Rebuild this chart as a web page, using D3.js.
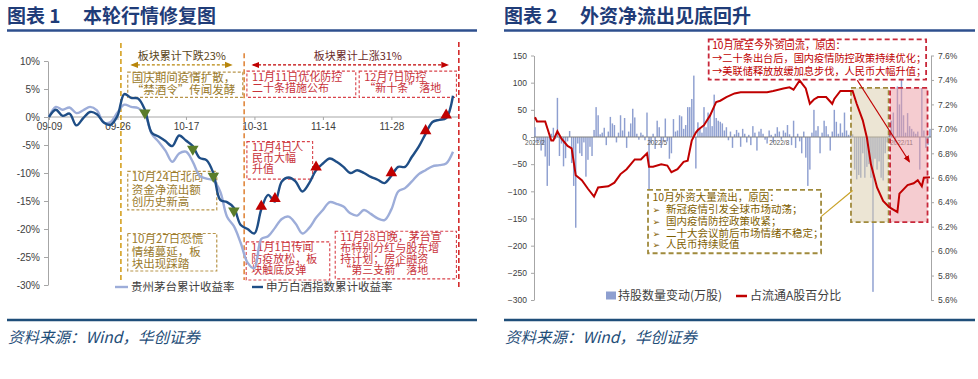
<!DOCTYPE html>
<html>
<head>
<meta charset="utf-8">
<script src="https://cdn.jsdelivr.net/npm/d3@7"></script>
<style>
  body { margin: 0; background: #fff; }
  svg { display: block; font-family: "Noto Sans CJK SC", sans-serif; }
  .axis text { font-family: "Liberation Sans", Arial, sans-serif; fill: #404040; }
  .axis path, .axis line { stroke: #a6a6a6; }
  .ttl { font-size: 19px; font-weight: 700; fill: #1f3c78; }
  .src { font-size: 15.5px; font-style: italic; fill: #1f4e79; }
</style>
</head>
<body>
<svg width="978" height="379"></svg>
<script>
// ---------- chart 1 data (trading days from 09-09) ----------
var leftTickDays = [0, 10, 20, 30, 40, 50];
var leftTickLabels = ["09-09", "09-26", "10-17", "10-31", "11-14", "11-28"];

// 贵州茅台累计收益率 (%)
var moutai = [0, 1.8, 1.3, 1.7, 0.7, 1.2, 1.8, 1.2, -1.0, -0.9,
  0.8, 2.2, 1.8, 1.6, 0.5, -3.0, -4.4, -6.0, -8.0, -6.5,
  -6.2, -8.0, -10.5, -11.0, -11.3, -13.3, -17.8, -19.5, -22.5, -26.0,
  -27.0, -21.8, -21.3, -19.8, -18.2, -17.8, -19.0, -20.8, -19.8, -18.0,
  -16.6, -15.2, -15.5, -16.0, -17.2, -17.6, -16.6, -17.3, -18.1, -18.4,
  -16.5, -13.3, -12.7, -11.5, -10.2, -9.5, -8.8, -8.6, -8.3, -6.2];

// 申万白酒指数累计收益率 (%)
var baijiu = [0, 1.3, 0.2, 0.6, -1.5, -0.2, 0.9, 0.5, -1.0, -1.4,
  0.2, 4.1, 3.4, 3.3, 1.3, -2.8, -3.5, -4.3, -5.2, -3.3,
  -4.2, -5.2, -7.3, -7.7, -10.0, -14.8, -15.2, -16.2, -19.3, -20.0,
  -20.8, -16.5, -13.9, -15.1, -11.5, -10.8, -11.5, -13.3, -11.8, -9.5,
  -8.3, -7.4, -8.0, -8.9, -10.0, -9.5, -10.0, -10.7, -11.2, -11.8,
  -10.5, -8.9, -8.9, -7.1, -5.3, -3.0, -0.9, -0.5, -0.2, 3.8];

var downDays = [14, 21, 24, 27];          // green markers
var upDays = [31, 33, 39, 50, 55, 58];    // red markers

// ---------- chart 2 data (trading days from 2022/2) ----------
var rightTickDays = [0, 60, 120, 180];
var rightTickLabels = ["2022/2", "2022/5", "2022/8", "2022/11"];

// 持股数量变动(万股)
var holdChange = [
  18, -11, -6, -25, -14, -36, -90, -53, 6, 17,
  -4, 72, -35, -12, -54, -39, -8, 11, -48, -90,
  -167, -12, -30, -35, -10, -73, -42, -18, -35, 13,
  55, 40, 5, 8, 17, -15, 10, 37, 25, 22,
  -10, 8, 40, 12, 35, -20, 10, 25, 52, 36,
  6, -5, 8, 4, -6, 45, -98, -12, 6, -22,
  30, 18, -20, -8, 34, -8, -40, -30, 33, 10,
  12, 40, 38, 15, 22, 55, 55, 70, 113, -58,
  27, 15, 8, 55, 18, 45, 40, 20, 78, 35,
  30, 28, 25, 12, 18, -6, 10, -20, 5, 13,
  8, -18, 15, 6, -10, 4, -15, 20, 8, -25,
  10, 15, 6, -5, -12, 12, 4, -10, 6, 18,
  10, -5, 12, 8, 22, 5, -15, 30, -20, 6,
  -8, -30, 10, -38, -90, -60, 8, 50, 12, 20,
  -30, 8, 30, 20, 5, -25, 10, 50, 28, 6,
  25, 8, 45, 12, 4, 8, 5, -60, -78, -70,
  -75, -30, -75, -55, -50, -75, -285, -40, -60, -45,
  -75, -80, -30, -10, 5, 30, 45, -10, 93, 60,
  105, 40, 8, 44, 20, 15, 10, 6, 10, -60,
  90, 12, -20, -15, 15];

// 占流通A股百分比 (%)
var pctDays = [0, 1, 5, 8, 9, 11, 13, 16, 18, 20, 23, 26, 29, 31, 36, 39, 42, 45, 49, 52,
  55, 56, 58, 62, 65, 67, 70, 73, 75, 77, 79, 80, 83, 86, 89, 91, 94, 98, 101, 107,
  114, 117, 122, 125, 127, 130, 133, 135, 137, 139, 143, 146, 147, 150, 156, 158, 161, 163, 165, 168,
  171, 174, 176, 178, 179, 183, 186, 188, 190, 191, 194];
var pctValues = [7.095, 7.06, 7.06, 6.905, 6.905, 6.98, 6.92, 6.86, 6.84, 6.62, 6.58, 6.51, 6.446, 6.52, 6.53, 6.56, 6.63, 6.67, 6.75, 6.75,
  6.80, 6.69, 6.69, 6.71, 6.70, 6.645, 6.67, 6.73, 6.74, 6.905, 6.97, 6.99, 7.03, 7.11, 7.22, 7.23, 7.26, 7.29, 7.30, 7.30,
  7.30, 7.31, 7.33, 7.34, 7.32, 7.395, 7.33, 7.205, 7.24, 7.26, 7.26, 7.205, 7.245, 7.31, 7.31, 7.205, 7.07, 6.93, 6.71, 6.52,
  6.41, 6.36, 6.34, 6.32, 6.47, 6.54, 6.555, 6.58, 6.53, 6.60, 6.605];

var svg = d3.select("svg");

// arrow heads
var defs = svg.append("defs");
[["arGold", "#b8860b"], ["arRed", "#c00000"]].forEach(function (m) {
  defs.append("marker").attr("id", m[0]).attr("viewBox", "0 0 10 10")
    .attr("refX", 8).attr("refY", 5).attr("markerWidth", 6).attr("markerHeight", 6)
    .attr("orient", "auto-start-reverse")
    .append("path").attr("d", "M0,1 L10,5 L0,9 z").attr("fill", m[1]);
});

// titles, rules and source lines
function frame(x0, x1, num, title) {
  svg.append("text").attr("class", "ttl").attr("x", x0).attr("y", 23).text("图表 " + num);
  svg.append("text").attr("class", "ttl").attr("x", x0 + 76).attr("y", 23).text(title);
  svg.append("line").attr("x1", x0).attr("x2", x1).attr("y1", 30.5).attr("y2", 30.5)
    .attr("stroke", "#2e4f8e").attr("stroke-width", 2.5);
  svg.append("line").attr("x1", x0).attr("x2", x1).attr("y1", 320).attr("y2", 320)
    .attr("stroke", "#1f4e79").attr("stroke-width", 2.5);
  svg.append("text").attr("class", "src").attr("x", x0 + 1).attr("y", 343).text("资料来源：Wind，华创证券");
}
frame(7, 477, 1, "本轮行情修复图");
frame(504, 975, 2, "外资净流出见底回升");

// dashed note box with text lines
function noteBox(g, xs, ys, b, st) {
  var x0 = xs(b.x0), x1 = xs(b.x1), y0 = ys(b.y0), y1 = ys(b.y1);
  g.append("rect").attr("x", x0).attr("y", y0).attr("width", x1 - x0).attr("height", y1 - y0)
    .attr("fill", st.fill || "none").attr("fill-opacity", st.op || 1)
    .attr("stroke", st.stroke).attr("stroke-width", st.sw).attr("stroke-dasharray", st.dash);
  (b.lines || []).forEach(function (t, k) {
    g.append("text").attr("x", x0 + st.padX).attr("y", y0 + st.first + k * st.lh)
      .attr("fill", st.color).style("font-size", st.fs + "px").text(t);
  });
}

// ================= chart 1 =================
var lx = d3.scaleLinear().domain([0, 59]).range([49, 453]);
var ly = d3.scaleLinear().domain([-30, 10]).range([285, 61]);
var gL = svg.append("g");
var edgeDay = 59.85;

gL.append("g").attr("class", "axis").attr("transform", "translate(48,0)")
  .call(d3.axisLeft(ly).tickValues(d3.range(-30, 11, 5)).tickFormat(function (d) { return d + "%"; })
    .tickSize(4).tickPadding(4).tickSizeOuter(0))
  .style("font-size", "10px");

var xAx = gL.append("g").attr("class", "axis").attr("transform", "translate(0," + ly(0) + ")")
  .call(d3.axisBottom(lx).tickValues(leftTickDays).tickFormat(function (d, i) { return leftTickLabels[i]; })
    .tickSize(3).tickPadding(3).tickSizeOuter(0))
  .style("font-size", "10px");
xAx.select(".domain").remove();
gL.append("line").attr("x1", 48).attr("x2", lx(edgeDay)).attr("y1", ly(0)).attr("y2", ly(0)).attr("stroke", "#a6a6a6");

// period dividers
[[10.5, 13.2, -29.1, "#d4a020"], [28.5, 11.4, -29.1, "#e0873c"], [edgeDay, 13.4, -30.4, "#d42a2a"]].forEach(function (v) {
  gL.append("line").attr("x1", lx(v[0])).attr("x2", lx(v[0])).attr("y1", ly(v[1])).attr("y2", ly(v[2]))
    .attr("stroke", v[3]).attr("stroke-width", 1.6).attr("stroke-dasharray", "5,3");
});

// range arrows
gL.append("line").attr("x1", lx(12.1)).attr("x2", lx(26.6)).attr("y1", ly(9.3)).attr("y2", ly(9.3))
  .attr("stroke", "#b8860b").attr("stroke-width", 1.3).attr("stroke-dasharray", "3,2")
  .attr("marker-start", "url(#arGold)").attr("marker-end", "url(#arGold)");
gL.append("line").attr("x1", lx(29.8)).attr("x2", lx(58.2)).attr("y1", ly(9.3)).attr("y2", ly(9.3))
  .attr("stroke", "#c00000").attr("stroke-width", 1.3).attr("stroke-dasharray", "3,2")
  .attr("marker-start", "url(#arRed)").attr("marker-end", "url(#arRed)");
gL.append("text").attr("x", lx(19.4)).attr("y", ly(10.2)).attr("text-anchor", "middle")
  .style("font-size", "11px").attr("fill", "#5a4520").text("板块累计下跌23%");
gL.append("text").attr("x", lx(45.1)).attr("y", ly(10.2)).attr("text-anchor", "middle")
  .style("font-size", "11px").attr("fill", "#6b2a2a").text("板块累计上涨31%");

var goldSt = { stroke: "#b8954a", sw: 1.2, dash: "3,2", color: "#9a7a2c", fs: 11.5, lh: 12.4, first: 9.8, padX: 4 };
var redSt = { stroke: "#d9434b", sw: 1.1, dash: "3,2", color: "#c8323a", fs: 11, lh: 11.1, first: 9.6, padX: 5 };
[
  { x0: 11.5, x1: 28.3, y0: 8.0, y1: 3.5, lines: ["国庆期间疫情扩散，", "“禁酒令”传闻发酵"] },
  { x0: 11.5, x1: 24.5, y0: -9.7, y1: -16.6, lines: ["10月24日北向", "资金净流出额", "创历史新高"] },
  { x0: 11.5, x1: 24.5, y0: -20.8, y1: -27.5, lines: ["10月27日恐慌", "情绪蔓延，板", "块出现踩踏"] }
].forEach(function (b) { noteBox(gL, lx, ly, b, goldSt); });
[
  { x0: 28.9, x1: 44.8, y0: 8.2, y1: 3.5, lines: ["11月11日优化防控", "二十条措施公布"] },
  { x0: 45.3, x1: 59.5, y0: 8.2, y1: 3.5, lines: ["12月7日防控", "“新十条”落地"] },
  { x0: 28.9, x1: 38.5, y0: -4.4, y1: -11.1, lines: ["11月4日人", "民币大幅", "升值"] },
  { x0: 28.8, x1: 41.0, y0: -22.3, y1: -29.1, lines: ["11月1日传闻", "防疫放松，板", "块触底反弹"] },
  { x0: 41.8, x1: 59.5, y0: -20.4, y1: -28.9, lines: ["11月28日晚，茅台宣", "布特别分红与股东增", "持计划；房企融资", "“第三支箭”落地"] }
].forEach(function (b) { noteBox(gL, lx, ly, b, redSt); });

// the two return lines
var retLine = d3.line().x(function (d, i) { return lx(i); }).y(function (d) { return ly(d); })
  .curve(d3.curveCatmullRom.alpha(0.5));
gL.append("path").datum(moutai).attr("d", retLine).attr("fill", "none")
  .attr("stroke", "#9dadd9").attr("stroke-width", 2.4);
gL.append("path").datum(baijiu).attr("d", retLine).attr("fill", "none")
  .attr("stroke", "#1f4e86").attr("stroke-width", 2.4);

var tri = d3.symbol().type(d3.symbolTriangle).size(58);
gL.selectAll(".dn").data(downDays).enter().append("path")
  .attr("d", tri).attr("fill", "#5a7d2a")
  .attr("transform", function (d) { return "translate(" + lx(d) + "," + (ly(baijiu[d]) + 3) + ") rotate(180)"; });
gL.selectAll(".up").data(upDays).enter().append("path")
  .attr("d", tri).attr("fill", "#c00000")
  .attr("transform", function (d) { return "translate(" + lx(d) + "," + (ly(baijiu[d]) - 3) + ")"; });

// legend
gL.append("line").attr("x1", 115).attr("x2", 128).attr("y1", 287).attr("y2", 287).attr("stroke", "#9dadd9").attr("stroke-width", 2.4);
gL.append("text").attr("x", 131).attr("y", 291).style("font-size", "11.5px").attr("fill", "#404040").text("贵州茅台累计收益率");
gL.append("line").attr("x1", 252).attr("x2", 263).attr("y1", 287).attr("y2", 287).attr("stroke", "#1f4e86").attr("stroke-width", 2.4);
gL.append("text").attr("x", 266).attr("y", 291).style("font-size", "11.5px").attr("fill", "#404040").text("申万白酒指数累计收益率");

// ================= chart 2 =================
var rx = d3.scaleLinear().domain([0, 195]).range([534, 931]);
var ry = d3.scaleLinear().domain([-300, 150]).range([300, 55.5]);
var rp = d3.scaleLinear().domain([5.6, 7.6]).range([300, 55.5]);
var gR = svg.append("g");

gR.append("g").attr("class", "axis").attr("transform", "translate(534,0)")
  .call(d3.axisLeft(ry).tickValues(d3.range(-300, 151, 50)).tickSize(3).tickPadding(4).tickSizeOuter(0))
  .style("font-size", "8.5px");
gR.append("g").attr("class", "axis").attr("transform", "translate(931,0)")
  .call(d3.axisRight(rp).tickValues(d3.range(5.6, 7.61, 0.2)).tickFormat(function (d) { return d.toFixed(1) + "%"; })
    .tickSize(3).tickPadding(4).tickSizeOuter(0))
  .style("font-size", "8.5px");

gR.selectAll(".bar").data(holdChange).enter().append("rect")
  .attr("x", function (d, i) { return rx(i) + 0.3; })
  .attr("width", 1.45)
  .attr("y", function (d) { return ry(Math.max(0, d)); })
  .attr("height", function (d) { return Math.abs(ry(d) - ry(0)); })
  .attr("fill", "#8e9fd0");

gR.append("line").attr("x1", 534).attr("x2", 931).attr("y1", ry(0)).attr("y2", ry(0)).attr("stroke", "#7f7f7f");
gR.selectAll(".xl").data(rightTickDays).enter().append("text")
  .attr("x", function (d) { return rx(d) + 1; }).attr("y", ry(0) + 8)
  .attr("text-anchor", "middle").style("font-size", "6.5px").style("font-family", "Liberation Sans, Arial")
  .attr("fill", "#595959").text(function (d, i) { return rightTickLabels[i]; });

// shaded periods
noteBox(gR, rx, ry, { x0: 155.7, x1: 174.2, y0: 90.4, y1: -156.8 },
  { fill: "#d9ccaa", op: 0.5, stroke: "#a08a3c", sw: 1.8, dash: "5,3" });
noteBox(gR, rx, ry, { x0: 174.9, x1: 193.3, y0: 90.4, y1: -156.8 },
  { fill: "#eb9aa2", op: 0.5, stroke: "#c8283a", sw: 1.8, dash: "5,3" });

// holding percentage line
var pctLine = d3.line().x(function (d, i) { return rx(pctDays[i]) + 1; }).y(function (d) { return rp(d); });
gR.append("path").datum(pctValues).attr("d", pctLine).attr("fill", "none")
  .attr("stroke", "#c00000").attr("stroke-width", 2);

// notes
noteBox(gR, rx, ry, { x0: 85.8, x1: 192.6, y0: 179.5, y1: 105.7,
  lines: ["10月底至今外资回流，原因：", "→二十条出台后，国内疫情防控政策持续优化；", "→美联储释放放缓加息步伐，人民币大幅升值；"] },
  { stroke: "#c8283a", sw: 1.8, dash: "5,3", color: "#c00000", fs: 10.2, lh: 12.6, first: 10, padX: 3.5 });
noteBox(gR, rx, ry, { x0: 56, x1: 141, y0: -97.2, y1: -214, lines: ["10月外资大量流出，原因："] },
  { stroke: "#a08a3c", sw: 1.8, dash: "5,3", color: "#7f6000", fs: 10.5, lh: 11.9, first: 11, padX: 4.5 });
["新冠疫情引发全球市场动荡；", "国内疫情防控政策收紧；", "二十大会议前后市场情绪不稳定；", "人民币持续贬值"].forEach(function (t, k) {
  var yy = ry(-97.2) + 11 + (k + 1) * 11.9;
  gR.append("text").attr("x", rx(56) + 4.5).attr("y", yy).attr("fill", "#7f6000")
    .style("font-size", "9px").style("font-family", "DejaVu Sans").text("➢");
  gR.append("text").attr("x", rx(56) + 18).attr("y", yy).attr("fill", "#7f6000")
    .style("font-size", "10.5px").text(t);
});
gR.append("line").attr("x1", rx(141)).attr("y1", ry(-146.5)).attr("x2", rx(156.5)).attr("y2", ry(-98.5))
  .attr("stroke", "#c9a227").attr("stroke-width", 1.2);
gR.append("line").attr("x1", rx(158.8)).attr("y1", ry(104.4)).attr("x2", rx(184.3)).attr("y2", ry(-45))
  .attr("stroke", "#c00000").attr("stroke-width", 1.2).attr("marker-end", "url(#arRed)");

// legend
gR.append("rect").attr("x", 606).attr("y", 291.5).attr("width", 10).attr("height", 8).attr("fill", "#8e9fd0");
gR.append("text").attr("x", 618).attr("y", 300).style("font-size", "12px").attr("fill", "#404040").text("持股数量变动(万股)");
gR.append("line").attr("x1", 736).attr("x2", 747).attr("y1", 296).attr("y2", 296).attr("stroke", "#c00000").attr("stroke-width", 2.5);
gR.append("text").attr("x", 750).attr("y", 300).style("font-size", "12px").attr("fill", "#404040").text("占流通A股百分比");
</script>
</body>
</html>
